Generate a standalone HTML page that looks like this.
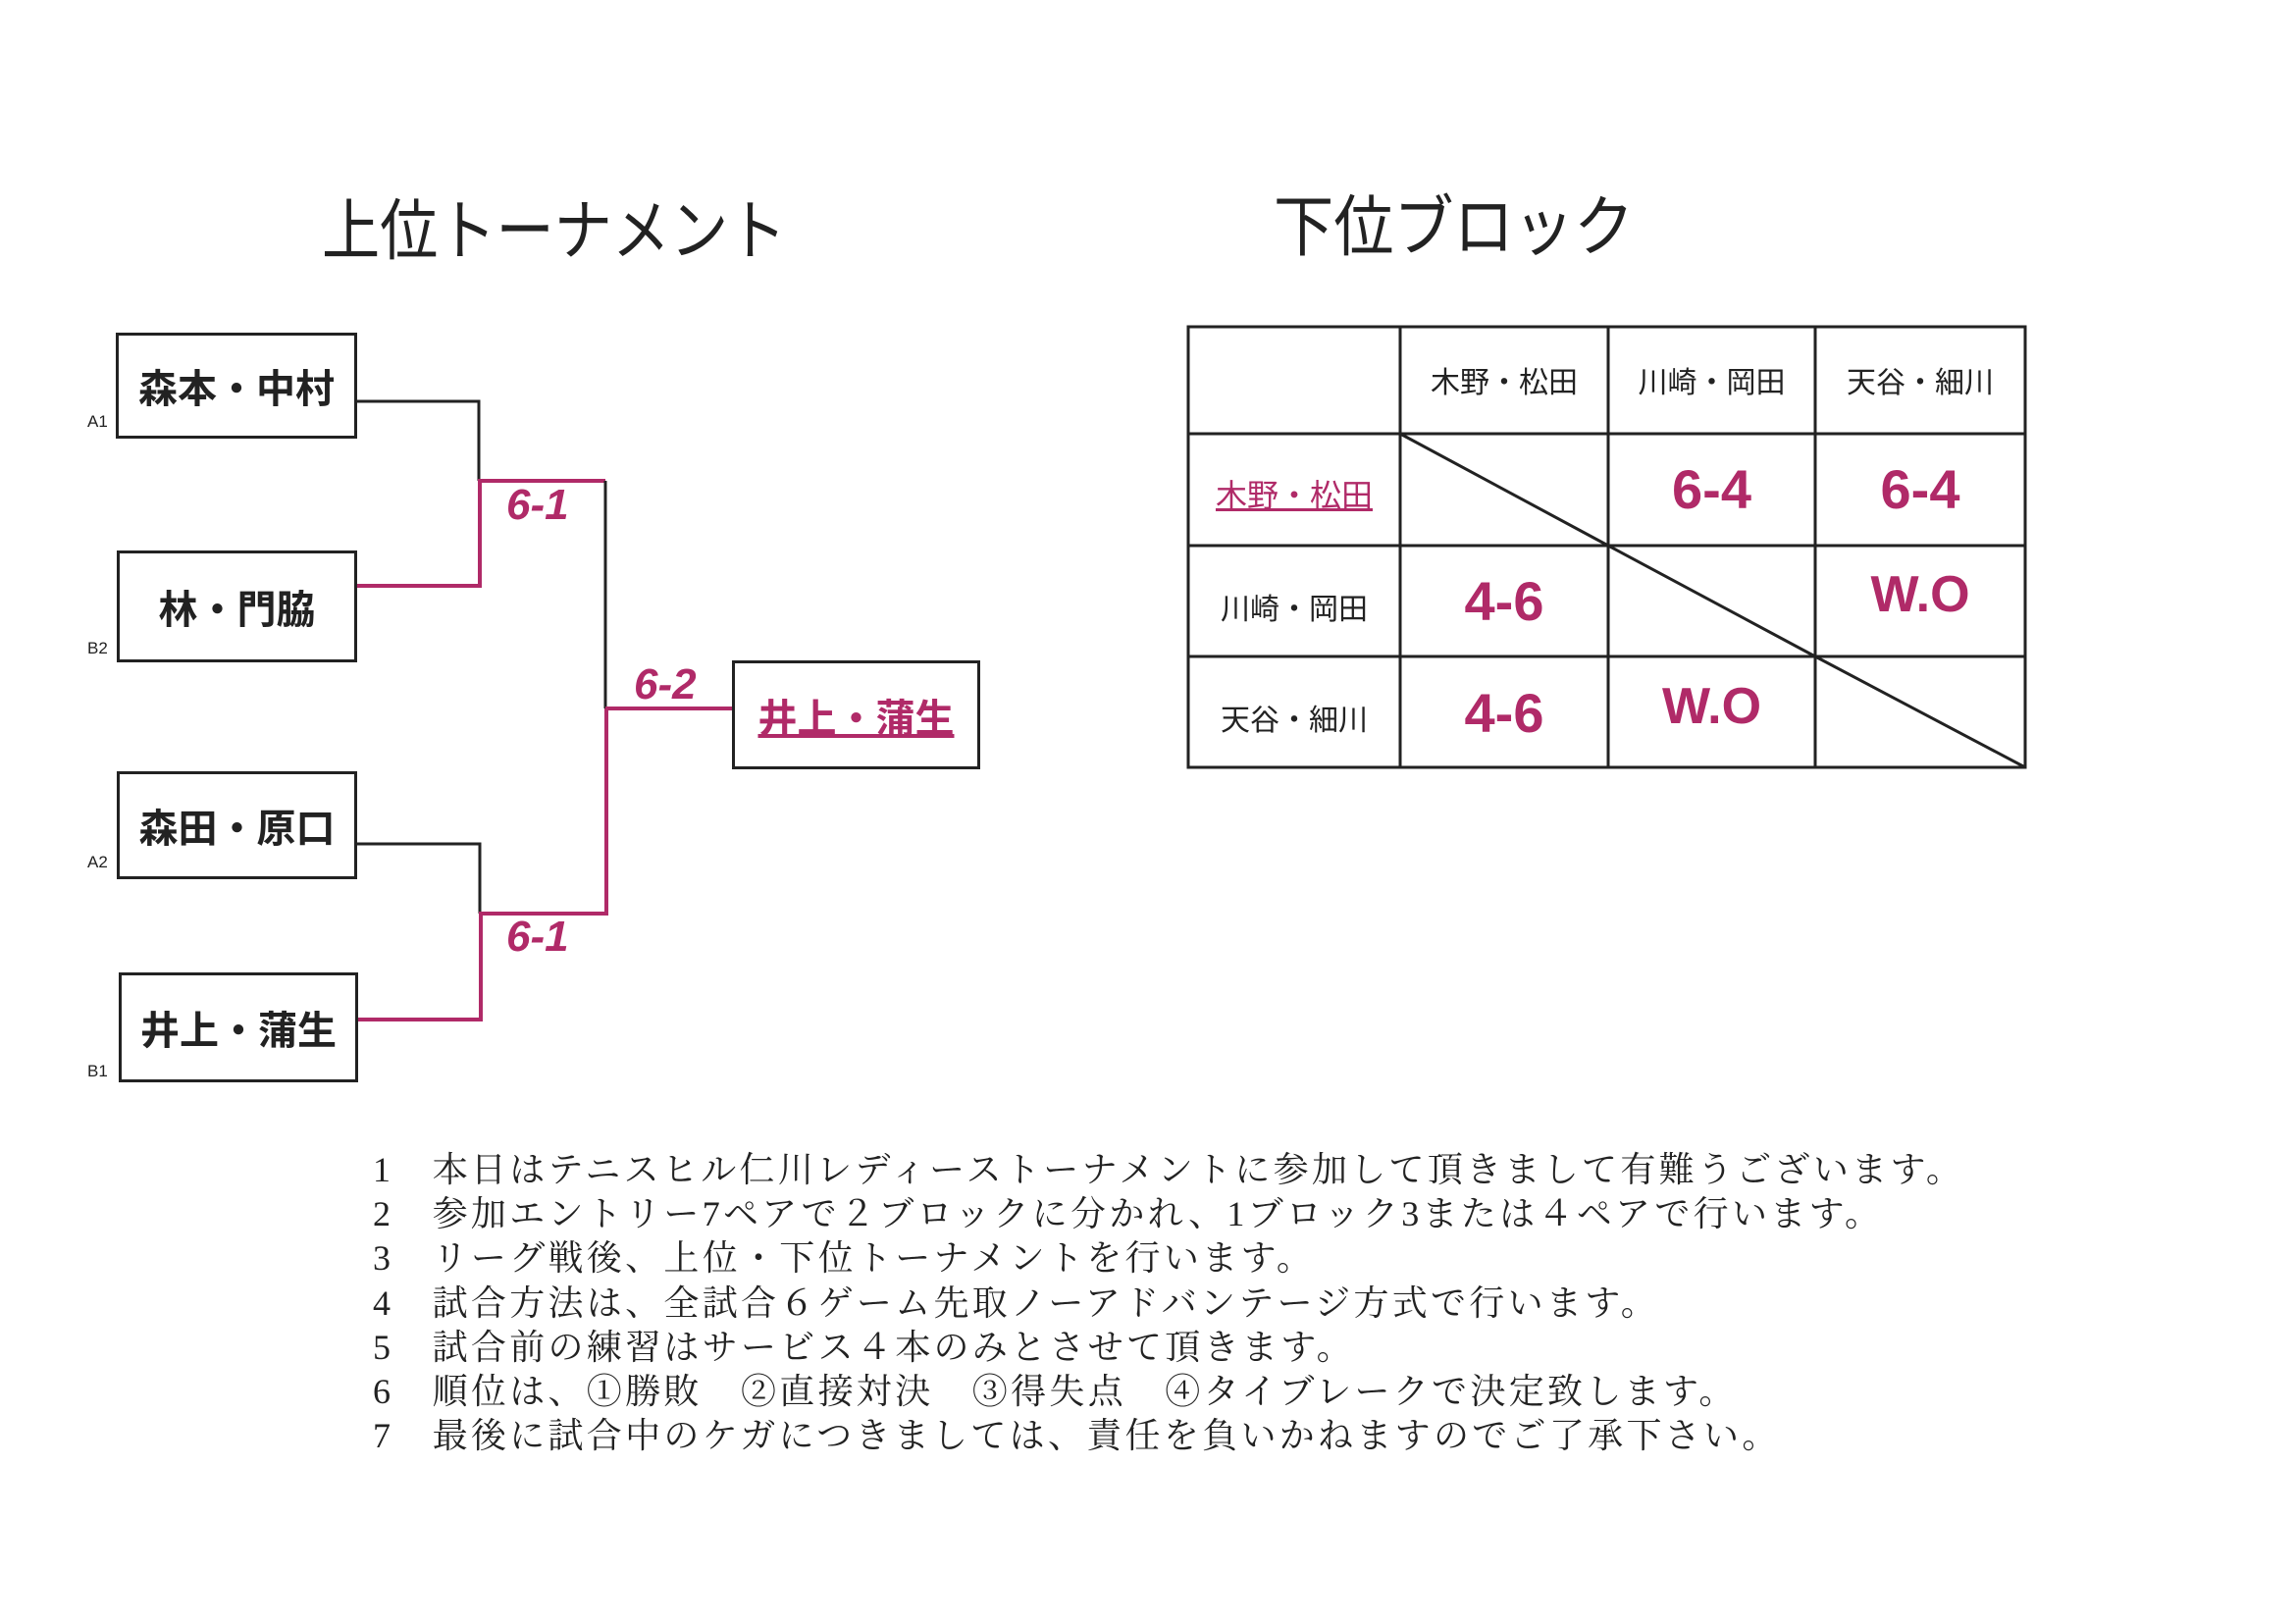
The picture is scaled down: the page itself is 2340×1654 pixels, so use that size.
<!DOCTYPE html>
<html><head><meta charset="utf-8"><style>
html,body{margin:0;padding:0;background:#fff;}
body{width:2340px;height:1654px;position:relative;overflow:hidden;font-family:"Liberation Sans","Noto Sans CJK JP",sans-serif;color:#222;}
.abs{position:absolute;}
.title{font-size:68px;font-weight:400;white-space:nowrap;transform-origin:left top;}
.box{position:absolute;border:3px solid #222;box-sizing:border-box;display:flex;align-items:center;justify-content:center;font-size:40px;font-weight:700;white-space:nowrap;}
.lab{position:absolute;font-size:17px;}
.sc{position:absolute;font-family:"Liberation Sans",sans-serif;font-weight:700;font-style:italic;color:#b02a68;font-size:44px;white-space:nowrap;}
.notes{position:absolute;left:380px;top:1170px;font-family:"Liberation Serif","Noto Serif CJK JP",serif;font-size:36px;line-height:45.2px;letter-spacing:3.3px;white-space:pre;color:#222;}
</style></head><body>
<div class="abs title" style="left:328px;top:180px;transform:scaleX(0.87);">上位トーナメント</div>
<div class="abs title" style="left:1298px;top:176px;transform:scaleX(0.9);">下位ブロック</div>

<div class="box" style="left:118px;top:339px;width:246px;height:108px;">森本・中村</div>
<div class="box" style="left:119px;top:561px;width:245px;height:114px;">林・門脇</div>
<div class="box" style="left:119px;top:786px;width:245px;height:110px;">森田・原口</div>
<div class="box" style="left:121px;top:991px;width:244px;height:112px;">井上・蒲生</div>
<div class="box" style="left:746px;top:673px;width:253px;height:111px;color:#b02a68;text-decoration:underline;">井上・蒲生</div>
<div class="lab" style="left:89px;top:420px;">A1</div>
<div class="lab" style="left:89px;top:651px;">B2</div>
<div class="lab" style="left:89px;top:869px;">A2</div>
<div class="lab" style="left:89px;top:1082px;">B1</div>

<svg class="abs" style="left:0;top:0" width="2340" height="1654">
<g fill="none" stroke-width="3">
<polyline points="364,409 488,409 488,490" stroke="#222"/>
<polyline points="364,597 489,597 489,490 617,490" stroke="#b02a68" stroke-width="4"/>
<polyline points="617,490 617,722" stroke="#222"/>
<polyline points="617,722 746,722" stroke="#b02a68" stroke-width="4"/>
<polyline points="364,860 489,860 489,931" stroke="#222"/>
<polyline points="365,1039 490,1039 490,931 618,931 618,722" stroke="#b02a68" stroke-width="4"/>
</g>
<g stroke="#222" stroke-width="3" fill="none">
<rect x="1211" y="333" width="853" height="449"/>
<line x1="1427" y1="333" x2="1427" y2="782"/>
<line x1="1639" y1="333" x2="1639" y2="782"/>
<line x1="1850" y1="333" x2="1850" y2="782"/>
<line x1="1211" y1="442" x2="2064" y2="442"/>
<line x1="1211" y1="556" x2="2064" y2="556"/>
<line x1="1211" y1="669" x2="2064" y2="669"/>
<line x1="1427" y1="442" x2="1639" y2="556"/>
<line x1="1639" y1="556" x2="1850" y2="669"/>
<line x1="1850" y1="669" x2="2064" y2="782"/>
</g>
</svg>
<div class="sc" style="left:516px;top:490px;">6-1</div>
<div class="sc" style="left:646px;top:673px;">6-2</div>
<div class="sc" style="left:516px;top:930px;">6-1</div>

<div class="abs" style="left:1427px;top:365px;width:212px;text-align:center;font-size:30px;">木野・松田</div>
<div class="abs" style="left:1639px;top:365px;width:211px;text-align:center;font-size:30px;">川崎・岡田</div>
<div class="abs" style="left:1850px;top:365px;width:214px;text-align:center;font-size:30px;">天谷・細川</div>
<div class="abs" style="left:1211px;top:480px;width:216px;text-align:center;font-size:32px;color:#b02a68;text-decoration:underline;">木野・松田</div>
<div class="abs" style="left:1211px;top:596px;width:216px;text-align:center;font-size:30px;">川崎・岡田</div>
<div class="abs" style="left:1211px;top:709px;width:216px;text-align:center;font-size:30px;">天谷・細川</div>
<div class="sc" style="left:1639px;top:466px;width:211px;text-align:center;font-size:56px;font-style:normal;">6-4</div>
<div class="sc" style="left:1850px;top:466px;width:214px;text-align:center;font-size:56px;font-style:normal;">6-4</div>
<div class="sc" style="left:1427px;top:580px;width:212px;text-align:center;font-size:56px;font-style:normal;">4-6</div>
<div class="sc" style="left:1850px;top:576px;width:214px;text-align:center;font-size:52px;font-style:normal;">W.O</div>
<div class="sc" style="left:1427px;top:694px;width:212px;text-align:center;font-size:56px;font-style:normal;">4-6</div>
<div class="sc" style="left:1639px;top:690px;width:211px;text-align:center;font-size:52px;font-style:normal;">W.O</div>

<div class="notes">1　本日はテニスヒル仁川レディーストーナメントに参加して頂きまして有難うございます。
2　参加エントリー7ペアで２ブロックに分かれ、1ブロック3または４ペアで行います。
3　リーグ戦後、上位・下位トーナメントを行います。
4　試合方法は、全試合６ゲーム先取ノーアドバンテージ方式で行います。
5　試合前の練習はサービス４本のみとさせて頂きます。
6　順位は、①勝敗　②直接対決　③得失点　④タイブレークで決定致します。
7　最後に試合中のケガにつきましては、責任を負いかねますのでご了承下さい。</div>
</body></html>
